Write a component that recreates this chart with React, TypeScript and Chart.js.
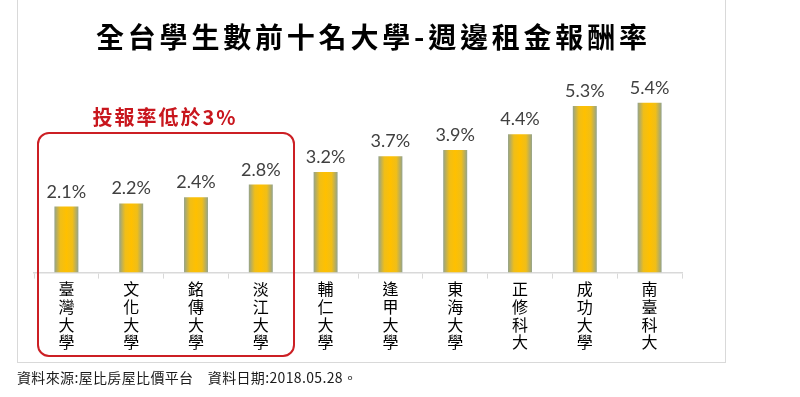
import React, { useEffect, useRef } from "react";
import { Chart, registerables } from "chart.js";

Chart.register(...registerables);

const titleText = "全台學生數前十名大學-週邊租金報酬率";
const noteText = "投報率低於3%";
const sourceText = "資料來源:屋比房屋比價平台　資料日期:2018.05.28。";

const categories = [
  "臺灣大學",
  "文化大學",
  "銘傳大學",
  "淡江大學",
  "輔仁大學",
  "逢甲大學",
  "東海大學",
  "正修科大",
  "成功大學",
  "南臺科大",
];
const values = [2.1, 2.2, 2.4, 2.8, 3.2, 3.7, 3.9, 4.4, 5.3, 5.4];

const CJK = '"Noto Sans CJK TC", "Noto Sans CJK SC", sans-serif';

const gradientPlugin = {
  id: "barGradient",
  beforeDatasetsDraw(chart: any) {
    const ctx = chart.ctx;
    chart.getSortedVisibleDatasetMetas().forEach((meta: any) => {
      meta.data.forEach((bar: any) => {
        const half = bar.width / 2;
        const g = ctx.createLinearGradient(bar.x - half, 0, bar.x + half, 0);
        g.addColorStop(0, "#93a38c");
        g.addColorStop(0.25, "#f0be18");
        g.addColorStop(0.5, "#ffc000");
        g.addColorStop(0.75, "#f0be18");
        g.addColorStop(1, "#93a38c");
        bar.options.backgroundColor = g;
      });
    });
  },
};

const valueLabelPlugin = {
  id: "valueLabels",
  afterDatasetsDraw(chart: any) {
    const ctx = chart.ctx;
    ctx.save();
    ctx.font = '18px Lato, "Open Sans", sans-serif';
    ctx.fillStyle = "#404040";
    ctx.textAlign = "center";
    ctx.textBaseline = "alphabetic";
    chart.getSortedVisibleDatasetMetas().forEach((meta: any) => {
      meta.data.forEach((bar: any, i: number) => {
        const v = chart.data.datasets[meta.index].data[i];
        ctx.fillText(v.toFixed(1) + "%", bar.x, bar.y - 9);
      });
    });
    ctx.restore();
  },
};

export default function App() {
  const canvasRef = useRef<HTMLCanvasElement | null>(null);

  useEffect(() => {
    if (!canvasRef.current) return;
    const chart = new Chart(canvasRef.current, {
      type: "bar",
      data: {
        labels: categories.map((c) => Array.from(c)),
        datasets: [
          {
            data: values,
            backgroundColor: (c: any) => (c.dataIndex >= 0 ? "#ffc000" : "#ffc000"),
            borderWidth: 0,
            barPercentage: 0.37,
            categoryPercentage: 1,
          },
        ],
      },
      options: {
        responsive: false,
        animation: false,
        events: [],
        layout: { padding: { left: 34, right: 118, top: 84, bottom: 44 } },
        plugins: {
          legend: { display: false },
          title: { display: false },
          tooltip: { enabled: false },
        },
        scales: {
          x: {
            offset: true,
            grid: {
              display: true,
              drawOnChartArea: false,
              drawTicks: true,
              tickLength: 6,
              color: "#d9d9d9",
              offset: true,
            },
            border: { display: true, color: "#d9d9d9", width: 1.5 },
            ticks: {
              color: "#000000",
              font: { family: CJK, size: 16, lineHeight: 1.1 },
              padding: 2,
              maxRotation: 0,
              minRotation: 0,
              autoSkip: false,
            },
          },
          y: { display: false, min: 0, max: 6 },
        },
      },
      plugins: [gradientPlugin, valueLabelPlugin],
    });
    return () => chart.destroy();
  }, []);

  return (
    <div
      style={{
        position: "fixed",
        left: 0,
        top: 0,
        width: 800,
        height: 397,
        background: "#ffffff",
        overflow: "hidden",
      }}
    >
      <canvas
        ref={canvasRef}
        width={800}
        height={397}
        style={{ position: "absolute", left: 0, top: 0, width: 800, height: 397 }}
      />
      <div
        style={{
          position: "absolute",
          left: 17,
          top: -1,
          width: 707,
          height: 362,
          border: "1px solid #d9d9d9",
          pointerEvents: "none",
        }}
      />
      <div
        style={{
          position: "absolute",
          left: 96,
          top: 22,
          fontFamily: CJK,
          fontWeight: 700,
          fontSize: 28,
          lineHeight: "28px",
          letterSpacing: 3.8,
          color: "#000000",
          whiteSpace: "nowrap",
        }}
      >
        {titleText}
      </div>
      <div
        style={{
          position: "absolute",
          left: 37,
          top: 132,
          width: 254,
          height: 221,
          border: "2px solid #cc1f24",
          borderRadius: 12,
          pointerEvents: "none",
        }}
      />
      <div
        style={{
          position: "absolute",
          left: 65,
          width: 200,
          top: 106,
          textAlign: "center",
          fontFamily: CJK,
          fontWeight: 700,
          fontSize: 20,
          lineHeight: "22px",
          letterSpacing: 2,
          color: "#c8161d",
          whiteSpace: "nowrap",
        }}
      >
        {noteText}
      </div>
      <div
        style={{
          position: "absolute",
          left: 17,
          top: 370,
          fontFamily: CJK,
          fontSize: 14,
          lineHeight: "14px",
          letterSpacing: 0.35,
          color: "#1a1a1a",
          whiteSpace: "nowrap",
        }}
      >
        {sourceText}
      </div>
    </div>
  );
}
